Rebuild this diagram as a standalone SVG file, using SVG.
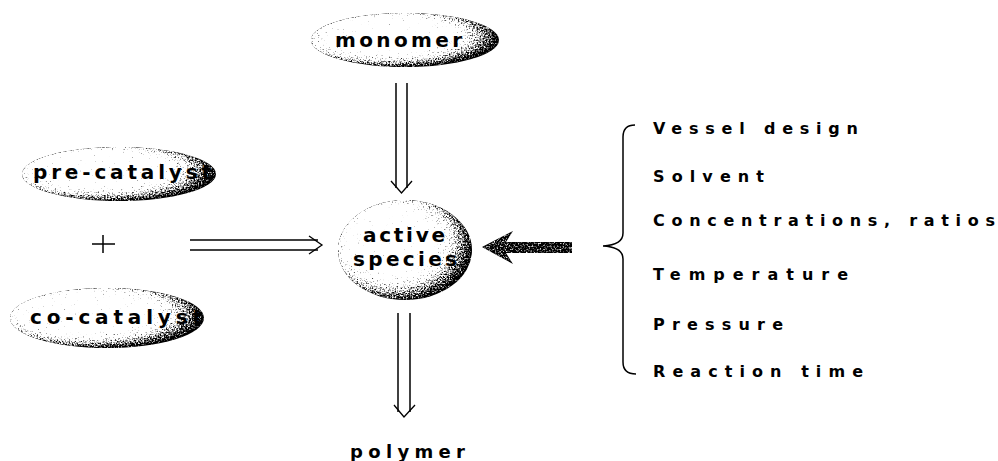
<svg xmlns="http://www.w3.org/2000/svg" width="998" height="461" viewBox="0 0 998 461">
<style>
.lbl{font-family:"DejaVu Sans","Verdana",sans-serif;font-weight:bold;fill:#000;}
.node{font-size:20px;}
.list{font-size:16px;}
.ln{stroke:#000;stroke-width:1.5;fill:none;}
.head{stroke:#000;stroke-width:1.3;fill:none;stroke-linejoin:miter;}
</style>
<defs>
<radialGradient id="shade" cx="0.42" cy="0.44" r="0.62" fx="0.38" fy="0.38">
<stop offset="0" stop-color="#ffffff"/>
<stop offset="0.5" stop-color="#ffffff"/>
<stop offset="0.7" stop-color="#cccccc"/>
<stop offset="0.86" stop-color="#6e6e6e"/>
<stop offset="1" stop-color="#1a1a1a"/>
</radialGradient>
<filter id="grain" x="0" y="0" width="1" height="1" color-interpolation-filters="sRGB">
<feTurbulence type="fractalNoise" baseFrequency="0.65" numOctaves="2" seed="5" result="n"/>
<feColorMatrix in="n" type="matrix" values="1 0 0 0 0  1 0 0 0 0  1 0 0 0 0  0 0 0 0 1" result="g"/>
<feComposite in="SourceGraphic" in2="g" operator="arithmetic" k1="0" k2="1" k3="1.2" k4="-0.6" result="s"/>
<feComponentTransfer in="s" result="t">
<feFuncR type="linear" slope="2.6" intercept="-0.8"/>
<feFuncG type="linear" slope="2.6" intercept="-0.8"/>
<feFuncB type="linear" slope="2.6" intercept="-0.8"/>
<feFuncA type="linear" slope="0" intercept="1"/>
</feComponentTransfer>
<feComposite in="t" in2="SourceAlpha" operator="in"/>
</filter>
</defs>

<g id="connectors">
<g id="arrow-monomer">
<line class="ln" x1="396" y1="83" x2="396" y2="188"/>
<line class="ln" x1="407" y1="83" x2="407" y2="188"/>
<polyline class="head" points="391,181 401.5,193 412,181"/>
</g>
<g id="arrow-catalyst">
<line class="ln" x1="190" y1="240" x2="318" y2="240"/>
<line class="ln" x1="190" y1="250" x2="318" y2="250"/>
<polyline class="head" points="309,236 322,245 309,254"/>
</g>
<g id="arrow-polymer">
<line class="ln" x1="398" y1="313" x2="398" y2="412"/>
<line class="ln" x1="410" y1="313" x2="410" y2="412"/>
<polyline class="head" points="394,405 404,417 415,405"/>
</g>
<g id="arrow-conditions">
<polygon points="482,247 513,231 506,242 572,242 572,253 506,253 513,264" fill="#505050" filter="url(#grain)"/>
</g>
<path id="brace" class="ln" d="M635,125 Q623,125 623,137 L623,233 Q623,245 603,246 Q623,247 623,259 L623,362 Q623,374 636,374"/>
</g>

<g id="monomer">
<ellipse cx="405" cy="40" rx="94" ry="27" fill="url(#shade)" filter="url(#grain)"/>
<text class="lbl node" x="335" y="47" textLength="127" lengthAdjust="spacing">monomer</text>
</g>
<g id="pre-catalyst">
<ellipse cx="119" cy="174" rx="97" ry="27" fill="url(#shade)" filter="url(#grain)"/>
<text class="lbl node" x="33" y="179" textLength="178" lengthAdjust="spacing">pre-catalyst</text>
</g>
<g id="plus">
<line class="ln" x1="92" y1="244" x2="115" y2="244" stroke-width="1"/>
<line class="ln" x1="103" y1="235" x2="103" y2="253" stroke-width="1"/>
</g>
<g id="co-catalyst">
<ellipse cx="107" cy="318" rx="97" ry="30" fill="url(#shade)" filter="url(#grain)"/>
<text class="lbl node" x="30" y="324" textLength="172" lengthAdjust="spacing">co-catalyst</text>
</g>
<g id="active-species">
<ellipse cx="405" cy="250" rx="67" ry="50" fill="url(#shade)" filter="url(#grain)"/>
<text class="lbl node" x="363" y="242" textLength="82" lengthAdjust="spacing">active</text>
<text class="lbl node" x="353" y="266" textLength="104" lengthAdjust="spacing">species</text>
</g>
<g id="polymer">
<text class="lbl" x="350" y="458" font-size="18" textLength="115" lengthAdjust="spacing">polymer</text>
</g>
<g id="conditions">
<text class="lbl list" x="653" y="134" textLength="205" lengthAdjust="spacing">Vessel design</text>
<text class="lbl list" x="653" y="182" textLength="111" lengthAdjust="spacing">Solvent</text>
<text class="lbl list" x="653" y="226" textLength="342" lengthAdjust="spacing">Concentrations, ratios</text>
<text class="lbl list" x="653" y="280" textLength="195" lengthAdjust="spacing">Temperature</text>
<text class="lbl list" x="653" y="330" textLength="130" lengthAdjust="spacing">Pressure</text>
<text class="lbl list" x="653" y="377" textLength="210" lengthAdjust="spacing">Reaction time</text>
</g>
</svg>
